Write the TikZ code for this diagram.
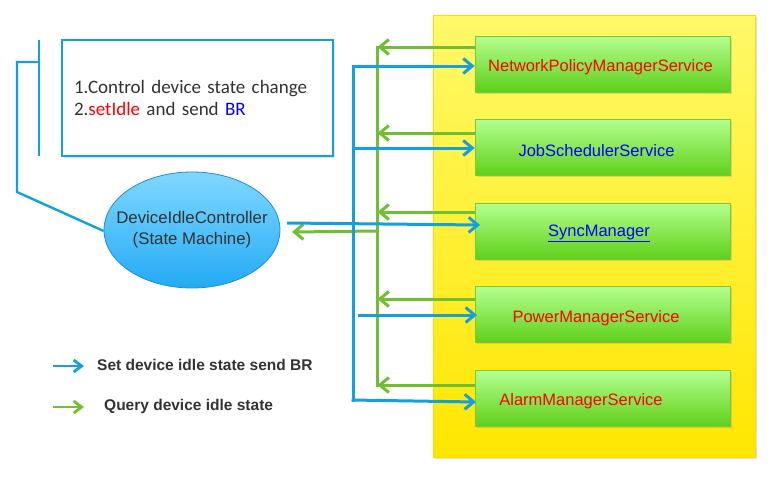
\documentclass[tikz,border=0pt]{standalone}
\usepackage{fontspec}
\setmainfont{Liberation Sans}
\newfontfamily\calfont{Carlito}
\usetikzlibrary{arrows.meta,shapes.geometric,shadows,calc}
\definecolor{lblue}{RGB}{20,160,222}
\definecolor{lgreen}{RGB}{112,190,50}
\definecolor{txtgray}{RGB}{50,50,50}
\definecolor{ytop}{RGB}{255,249,105}
\definecolor{ybot}{RGB}{255,230,0}
\definecolor{gtop}{RGB}{180,255,142}
\definecolor{gbot}{RGB}{95,208,25}
\definecolor{gborder}{RGB}{122,200,62}
\definecolor{etop}{RGB}{128,216,255}
\definecolor{ebot}{RGB}{35,170,245}
\definecolor{eborder}{RGB}{30,140,210}
\tikzset{
  svcbox/.style={draw=gborder, line width=0.8pt, top color=gtop, bottom color=gbot,
    minimum width=255pt, minimum height=56pt, inner sep=0pt,
    drop shadow={opacity=0.25, shadow xshift=1.5pt, shadow yshift=-1.5pt}},
  svctext/.style={font=\fontsize{16.5}{20}\selectfont, inner sep=0pt},
  barrow/.style={draw=lblue, line width=3pt, -{Straight Barb[length=9pt,width=15pt]}},
  garrow/.style={draw=lgreen, line width=3pt, -{Straight Barb[length=9pt,width=15pt]}},
  bline/.style={draw=lblue, line width=3pt},
  gline/.style={draw=lgreen, line width=3pt},
  callout/.style={draw=lblue, line width=2.4pt},
  legtext/.style={font=\bfseries\fontsize{15.5}{18}\selectfont, text=txtgray, anchor=west, inner sep=0pt}
}
\begin{document}
\begin{tikzpicture}[x=1pt,y=-1pt]
\useasboundingbox (0,0) rectangle (775,493);
\fill[white] (0,0) rectangle (775,493);

% yellow area
\node[draw=ybot!90!orange, line width=0.5pt, top color=ytop, bottom color=ybot,
  minimum width=322pt, minimum height=442pt, inner sep=0pt,
  drop shadow={opacity=0.25, shadow xshift=1.5pt, shadow yshift=-1.5pt}] (area) at (594,236) {};

% service boxes
\node[svcbox] (b1) at (602.5,64) {};
\node[svcbox] (b2) at (602.5,147.5) {};
\node[svcbox] (b3) at (602.5,231) {};
\node[svcbox] (b4) at (602.5,314.5) {};
\node[svcbox] (b5) at (602.5,398.5) {};
\node[svctext, text=red] (t1) at (600.5,67) {NetworkPolicyManagerService};
\node[svctext, text=blue] (t2) at (596.5,151) {JobSchedulerService};
\node[svctext, text=blue] (t3) at (599,233) {\underline{SyncManager}};
\node[svctext, text=red] (t4) at (596,318) {PowerManagerService};
\node[svctext, text=red] (t5) at (581,401) {AlarmManagerService};

% text box
\node[draw=lblue, line width=2.4pt, fill=white, minimum width=271pt, minimum height=116pt,
  text width=247pt, align=left, inner xsep=12pt,
  font=\calfont\fontsize{19}{22.5}\selectfont, text=txtgray,
  drop shadow={opacity=0.2, shadow xshift=1.5pt, shadow yshift=-1.5pt}] (tb) at (197.5,98)
  {1.Control device state change\\2.\textcolor{red}{setIdle} and send \textcolor{blue}{BR}};

% ellipse
\node[ellipse, draw=eborder, line width=0.8pt, top color=etop, bottom color=ebot,
  minimum width=176pt, minimum height=116pt, inner sep=0pt] (dic) at (192,230) {};
\node[align=center, inner sep=0pt, font=\fontsize{16.8}{21}\selectfont, text=txtgray] (dict) at (dic.center)
  {DeviceIdleController\\(State Machine)};

% callout bracket
\coordinate (c1) at (39,40);
\coordinate (c2) at (39,156);
\coordinate (c3) at (39,62);
\coordinate (c4) at (17,62);
\coordinate (c5) at (17,192);
\draw[callout] (c1) -- (c2);
\draw[callout] (c3) -- (c4) -- (c5) -- (dic.west |- 0,231);

% green query lines
\coordinate (gv1) at (377,45.5);
\coordinate (gv2) at (377,386.5);
\draw[gline] (gv1) -- (gv2);
\draw[garrow] (475,47) -- (377.5,47);
\draw[garrow] (475,133) -- (377.5,133);
\draw[garrow] (475,212) -- (377.5,212);
\draw[garrow] (475,299) -- (377.5,299);
\draw[garrow] (475,385) -- (377.5,385);
\draw[garrow] (377,231) -- (292,232);

% blue set lines
\coordinate (bv1) at (353,64.5);
\coordinate (bv2) at (353,401.5);
\draw[bline] (bv1) -- (bv2);
\draw[barrow] (351.5,66) -- (b1.west |- 0,66);
\draw[barrow] (351.5,148) -- (b2.west |- 0,148);
\draw[barrow] (287,223) -- (480,225);
\draw[barrow] (358,315) -- (477,315);
\draw[barrow] (351.5,400) -- (476,402);

% legend
\coordinate (l1a) at (53,366);
\coordinate (l1b) at (84,366);
\coordinate (l2a) at (53,407);
\coordinate (l2b) at (84,407);
\draw[draw=lblue, line width=2.8pt, -{Straight Barb[length=8pt,width=12pt]}] (l1a) -- (l1b);
\draw[draw=lgreen, line width=2.8pt, -{Straight Barb[length=8pt,width=12pt]}] (l2a) -- (l2b);
\node[legtext] (lt1) at (97,365) {Set device idle state send BR};
\node[legtext] (lt2) at (104,406) {Query device idle state};
\end{tikzpicture}
\end{document}
